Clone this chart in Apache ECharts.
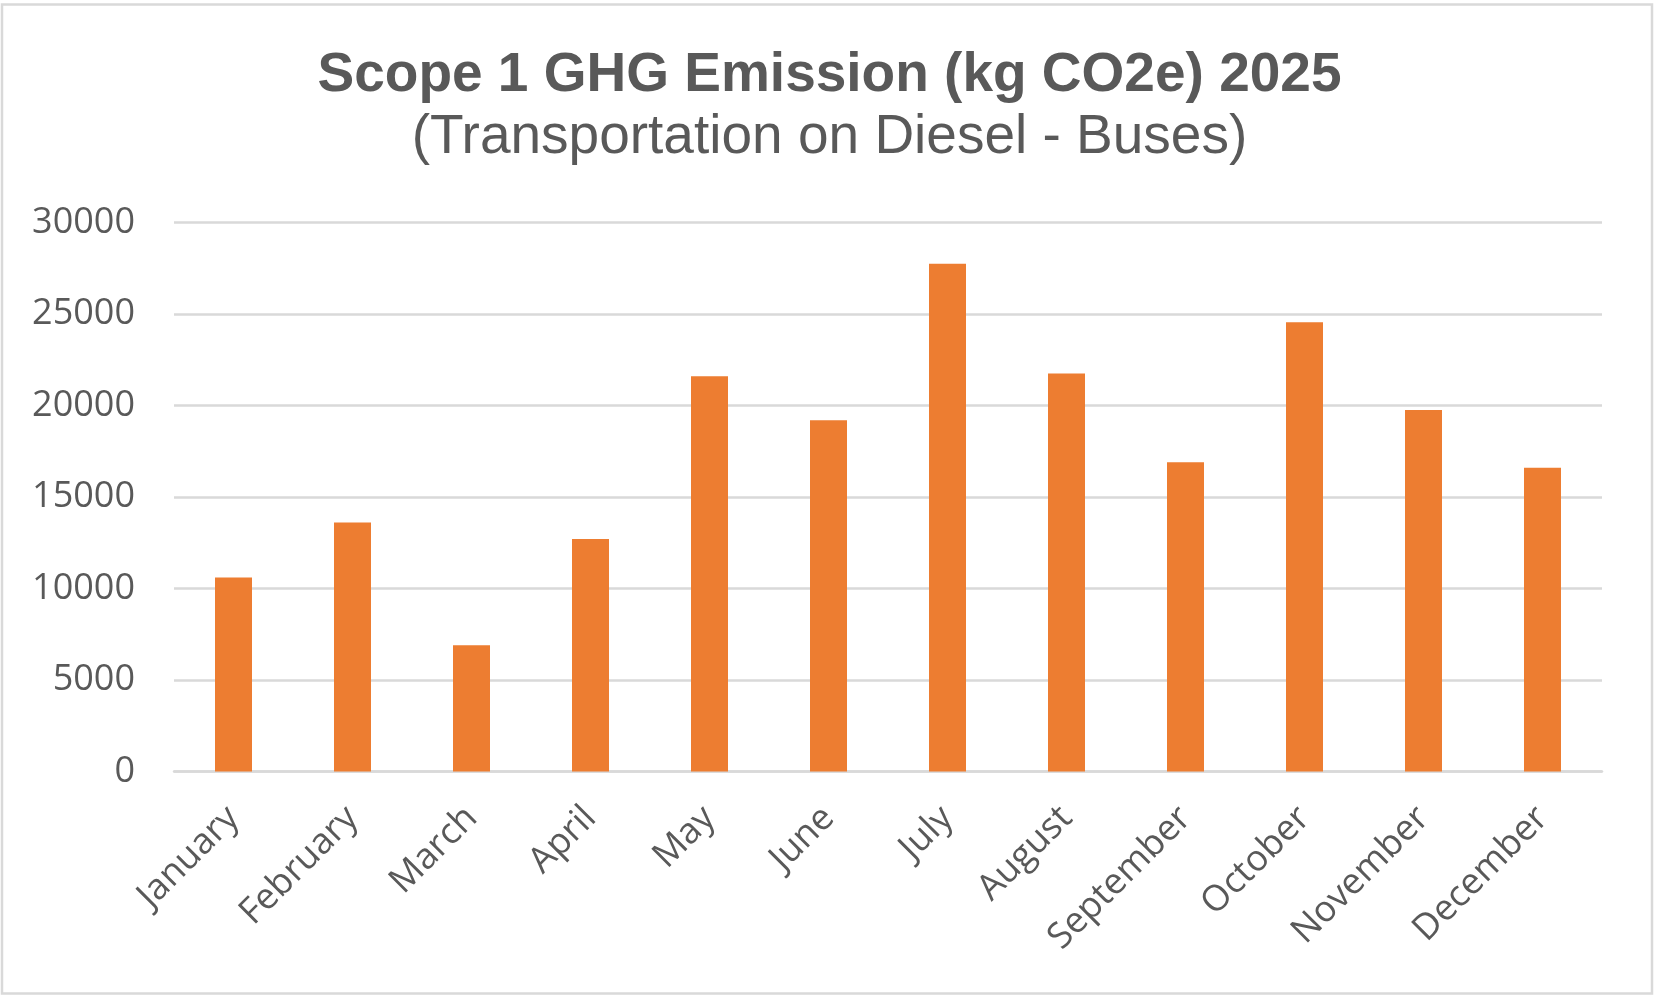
<!DOCTYPE html>
<html>
<head>
<meta charset="utf-8">
<script src="https://cdn.jsdelivr.net/npm/echarts@6/dist/echarts.min.js"></script>
<style>
html,body{margin:0;padding:0;background:#fff;}
#chart{width:1659px;height:1003px;}
</style>
</head>
<body>
<div id="chart"></div>
<script>
const titleText = 'Scope 1 GHG Emission (kg CO2e) 2025';
const subtitleText = '(Transportation on Diesel - Buses)';
const months = ['January','February','March','April','May','June','July','August','September','October','November','December'];
const emissions = [10600, 13600, 6900, 12700, 21600, 19200, 27750, 21750, 16900, 24550, 19750, 16600];
const yTicks = [0, 5000, 10000, 15000, 20000, 25000, 30000];

const chart = echarts.init(document.getElementById('chart'));
chart.setOption({
  backgroundColor: '#ffffff',
  animation: false,
  graphic: [{
    type: 'rect',
    shape: {x: 2, y: 4.5, width: 1650, height: 989},
    style: {fill: 'none', stroke: '#D9D9D9', lineWidth: 2.5},
    silent: true
  }],
  title: [{
    text: titleText,
    left: 'center',
    top: 43,
    textStyle: {fontFamily: 'Liberation Sans', fontWeight: 'bold', fontSize: 55, color: '#595959'}
  }, {
    text: subtitleText,
    left: 'center',
    top: 105,
    textStyle: {fontFamily: 'Liberation Sans', fontWeight: 'normal', fontSize: 55, color: '#595959'}
  }],
  grid: {left: 174, right: 57, top: 222.5, bottom: 231.5, containLabel: false},
  xAxis: {
    type: 'category',
    data: months,
    axisLine: {show: true, lineStyle: {color: '#D9D9D9', width: 2.5}},
    axisTick: {show: false},
    axisLabel: {rotate: 45, interval: 0, margin: 41, fontFamily: 'Open Sans', fontSize: 36, color: '#595959'}
  },
  yAxis: {
    type: 'value',
    min: yTicks[0],
    max: yTicks[yTicks.length - 1],
    interval: yTicks[1] - yTicks[0],
    axisLine: {show: false},
    axisTick: {show: false},
    splitLine: {lineStyle: {color: '#D9D9D9', width: 2.5}},
    axisLabel: {margin: 39, fontFamily: 'Open Sans', fontSize: 36, color: '#595959', formatter: function (v) { return String(v); }}
  },
  series: [{
    type: 'bar',
    data: emissions,
    barWidth: 37,
    itemStyle: {color: '#ED7D31'}
  }]
});
</script>
</body>
</html>
